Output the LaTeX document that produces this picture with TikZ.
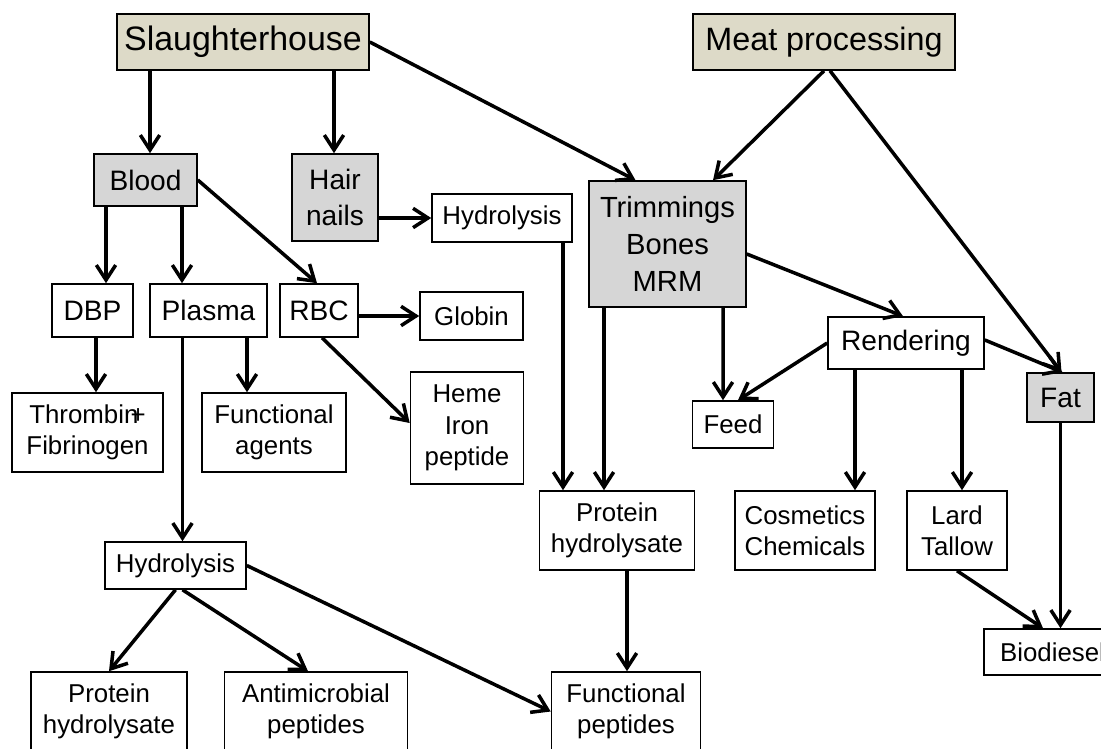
\documentclass[tikz,border=0pt]{standalone}
\usepackage{fontspec}
\setmainfont{Liberation Sans}
\usetikzlibrary{arrows.meta, calc}

\definecolor{srcfill}{RGB}{221,218,200}
\definecolor{grayfill}{RGB}{214,214,214}

\begin{document}
\begin{tikzpicture}[x=0.02cm, y=-0.02cm,
    box/.style={draw, line width=0.9pt, fill=white, align=center, inner sep=0pt,
      font=\fontsize{14.7}{17.5}\selectfont},
    big/.style={font=\fontsize{16}{20.8}\selectfont},
    src/.style={box, fill=srcfill, font=\fontsize{18.4}{22}\selectfont},
    grp/.style={box, big, fill=grayfill},
    sz/.style 2 args={minimum width=#1*0.02cm, minimum height=#2*0.02cm},
    flow/.style={-{Straight Barb[length=8.5pt,width=11pt]}, line width=2pt}]
  \useasboundingbox (0,0) rectangle (1101,749);
  \clip (0,0) rectangle (1101,749);

  % sources
  \node[src, sz={252}{56}, font=\fontsize{19.3}{22}\selectfont] (slaughter) at (243,42) {Slaughterhouse};
  \node[src, sz={262}{56}] (meat) at (824,42) {Meat processing};

  % by-products
  \node[grp, sz={103}{52}] (blood) at (145.5,180) {Blood};
  \node[grp, sz={86}{87}] (hair) at (335,197.5) {Hair\\nails};
  \node[box, sz={140}{48}] (hydroA) at (502,218) {Hydrolysis};
  \node[grp, sz={157}{126}, font=\fontsize{16.6}{21.3}\selectfont] (trim) at (667.5,244) {Trimmings\\Bones\\MRM};
  \node[box, big, sz={81}{53}] (dbp) at (92.5,310.5) {DBP};
  \node[box, big, sz={117}{53}] (plasma) at (208.5,310.5) {Plasma};
  \node[box, big, sz={78}{53}] (rbc) at (319,310.5) {RBC};
  \node[box, sz={103}{48}] (globin) at (471.5,316) {Globin};
  \node[box, big, sz={156}{52}] (render) at (906,343) {Rendering};
  \node[grp, sz={67}{49}] (fat) at (1060.5,397.5) {Fat};

  % products
  \node[box, sz={81}{47}] (feed) at (733,424.5) {Feed};
  \node[box, sz={151}{79}] (thromb) at (87.5,432.5) {Thrombin\kern-.3em+\\Fibrinogen};
  \node[box, sz={144}{79}] (funcag) at (274,432.5) {Functional\\agents};
  \node[box, sz={113}{112}, font=\fontsize{14.7}{18}\selectfont] (heme) at (467,428) {Heme\\Iron\\peptide};
  \node[box, sz={155}{79}] (protA) at (617,530.5) {Protein\\hydrolysate};
  \node[box, sz={140}{79}] (cosm) at (805,530.5) {Cosmetics\\Chemicals};
  \node[box, sz={100}{79}] (lard) at (957,530.5) {Lard\\Tallow};
  \node[box, sz={141}{47}] (hydroB) at (175.5,565.5) {Hydrolysis};
  \node[box, sz={137}{46}] (biod) at (1052.5,652) {Biodiesel};
  \node[box, sz={156}{79}] (protB) at (109,711.5) {Protein\\hydrolysate};
  \node[box, sz={183}{79}] (antimic) at (316,711.5) {Antimicrobial\\peptides};
  \node[box, sz={149}{79}] (funcpep) at (626,711.5) {Functional\\peptides};

  \path[flow]
    ($(slaughter.south)+(-93,0)$) edge ($(blood.north)+(4.5,0)$)
    ($(slaughter.south)+(91,0)$) edge ($(hair.north)+(-1,0)$)
    (slaughter.east) edge ($(trim.north)+(-32,0)$)
    (meat.south) edge ($(trim.north)+(45.5,0)$)
    ($(meat.south)+(6,0)$) edge ($(fat.north)+(1,0)$)
    ($(blood.south)+(-39.5,0)$) edge ($(dbp.north)+(13.5,0)$)
    ($(blood.south)+(36.5,0)$) edge ($(plasma.north)+(-26.5,0)$)
    (blood.east) edge ($(rbc.north)+(-2,0)$)
    (hair.east |- hydroA.west) edge (hydroA.west)
    ($(hydroA.south)+(61,0)$) edge ($(protA.north)+(-54,0)$)
    ($(trim.south)+(-63.5,0)$) edge ($(protA.north)+(-13,0)$)
    ($(trim.south)+(55.5,0)$) edge ($(feed.north)+(-10,0)$)
    ($(trim.east)+(0,10)$) edge ($(render.north)+(-3,0)$)
    (render.west) edge ($(feed.north)+(5,0)$)
    ($(render.south)+(-51,0)$) edge ($(cosm.north)+(50,0)$)
    ($(render.south)+(56,0)$) edge ($(lard.north)+(5,0)$)
    ($(render.east)+(0,-3)$) edge ($(fat.north)+(2,0)$)
    (fat.south) edge ($(biod.north)+(8,0)$)
    (lard.south) edge ($(biod.north)+(-9.5,0)$)
    ($(dbp.south)+(3.5,0)$) edge ($(thromb.north)+(8.5,0)$)
    ($(plasma.south)+(38.5,0)$) edge ($(funcag.north)+(-27,0)$)
    ($(plasma.south)+(-26,0)$) edge ($(hydroB.north)+(7,0)$)
    (rbc.east |- globin.west) edge (globin.west)
    ($(rbc.south)+(3,0)$) edge ($(heme.west)+(0,-5)$)
    (hydroB.south) edge (protB.north)
    ($(hydroB.south)+(7,0)$) edge ($(antimic.north)+(-8,0)$)
    (hydroB.east) edge (funcpep.west)
    ($(protA.south)+(10,0)$) edge ($(funcpep.north)+(1,0)$);
\end{tikzpicture}
\end{document}
